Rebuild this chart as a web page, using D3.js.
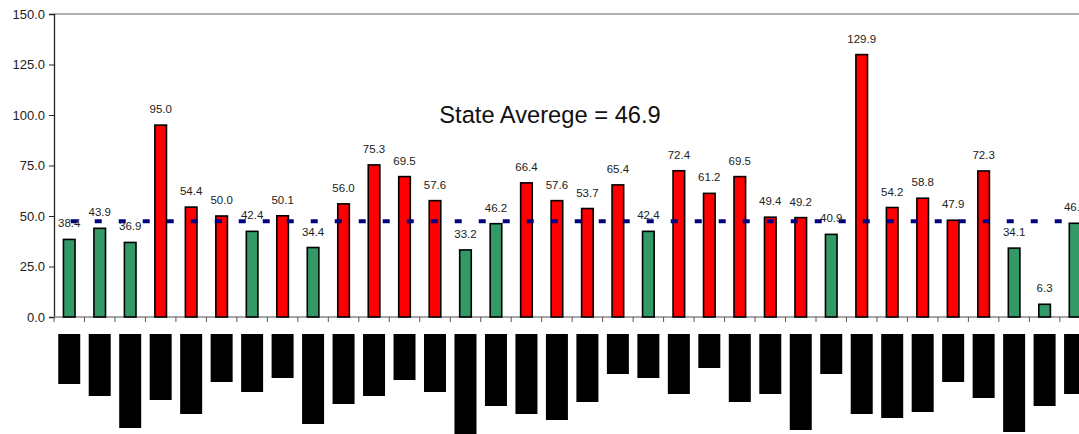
<!DOCTYPE html>
<html>
<head>
<meta charset="utf-8">
<script src="https://cdn.jsdelivr.net/npm/d3@7"></script>
<style>
  html, body { margin: 0; padding: 0; background: #fff; overflow: hidden; }
  svg { display: block; font-family: "Liberation Sans", Arial, sans-serif; }
</style>
</head>
<body>
<svg id="chart" width="1079" height="434"></svg>
<script>
// Rate per area (bars) and the state-wide average
const values = [38.4, 43.9, 36.9, 95.0, 54.4, 50.0, 42.4, 50.1, 34.4, 56.0,
                75.3, 69.5, 57.6, 33.2, 46.2, 66.4, 57.6, 53.7, 65.4, 42.4,
                72.4, 61.2, 69.5, 49.4, 49.2, 40.9, 129.9, 54.2, 58.8, 47.9,
                72.3, 34.1, 6.3, 46.4];
const stateAverage = 46.9;
const yTicks = [0, 25, 50, 75, 100, 125, 150];
// Lengths of the masked-out area names below the axis
const maskLengths = [50, 62, 94, 66, 80, 48, 58, 44, 90, 70, 62, 46, 58, 100, 72, 80, 86,
                     68, 40, 44, 60, 34, 68, 60, 96, 40, 80, 84, 78, 48, 64, 98, 72, 60];
const categories = values.map((_, i) => i);

const svg = d3.select("#chart");
const plotLeft = 54, plotTop = 14, plotBottom = 317;
const step = 30.48;
const plotRight = plotLeft + step * categories.length;

const x = d3.scaleBand().domain(categories).range([plotLeft, plotRight])
  .paddingInner(0.62).paddingOuter(0.31);
const y = d3.scaleLinear().domain([0, 150]).range([plotBottom, plotTop]);

// top frame line
svg.append("line").attr("x1", plotLeft).attr("x2", 1079).attr("y1", plotTop).attr("y2", plotTop)
  .attr("stroke", "#999").attr("stroke-width", 1.5);

// y axis
const yAxis = d3.axisLeft(y).tickValues(yTicks).tickFormat(d3.format(".1f")).tickSize(5).tickPadding(4);
const gy = svg.append("g").attr("transform", `translate(${plotLeft},0)`).call(yAxis);
gy.select(".domain").attr("stroke", "#222").attr("stroke-width", 1.3);
gy.selectAll(".tick line").attr("stroke", "#222");
gy.selectAll(".tick text").attr("font-size", 13).attr("fill", "#222")
  .attr("font-family", "'Liberation Sans', Arial, sans-serif");

// x axis baseline with ticks on category boundaries
svg.append("line").attr("x1", plotLeft).attr("x2", plotRight).attr("y1", plotBottom).attr("y2", plotBottom)
  .attr("stroke", "#888").attr("stroke-width", 1.3);
svg.append("g").selectAll("line").data(d3.range(categories.length + 1)).join("line")
  .attr("x1", i => plotLeft + i * x.step()).attr("x2", i => plotLeft + i * x.step())
  .attr("y1", plotBottom).attr("y2", plotBottom + 5)
  .attr("stroke", "#555").attr("stroke-width", 1);

// bars
svg.append("g").selectAll("rect").data(values).join("rect")
  .attr("x", (d, i) => x(i))
  .attr("width", x.bandwidth())
  .attr("y", d => y(d))
  .attr("height", d => y(0) - y(d))
  .attr("fill", d => d < stateAverage ? "#339966" : "#ff0000")
  .attr("stroke", "#000").attr("stroke-width", 1.6);

// average line
svg.append("line")
  .attr("x1", x(0) + x.bandwidth() / 2 + 1.5)
  .attr("x2", x(categories.length - 1) + x.bandwidth() / 2)
  .attr("y1", y(stateAverage) - 1).attr("y2", y(stateAverage) - 1)
  .attr("stroke", "#000080").attr("stroke-width", 4.2)
  .attr("stroke-dasharray", "7 17");

// value labels
svg.append("g").selectAll("text").data(values).join("text")
  .attr("x", (d, i) => x(i) + x.bandwidth() / 2)
  .attr("y", d => y(d) - 12)
  .attr("text-anchor", "middle")
  .attr("font-size", 11.5).attr("fill", "#222")
  .text(d => d.toFixed(1));

// title annotation
svg.append("text").attr("x", 550).attr("y", 123)
  .attr("text-anchor", "middle").attr("font-size", 23.7).attr("fill", "#111")
  .text("State Averege = " + stateAverage.toFixed(1));

// masked category names
const maskW = 22;
svg.append("g").selectAll("rect").data(maskLengths).join("rect")
  .attr("x", (d, i) => x(i) + x.bandwidth() / 2 - maskW / 2)
  .attr("y", 334)
  .attr("width", maskW)
  .attr("height", d => d)
  .attr("fill", "#000");
</script>
</body>
</html>
